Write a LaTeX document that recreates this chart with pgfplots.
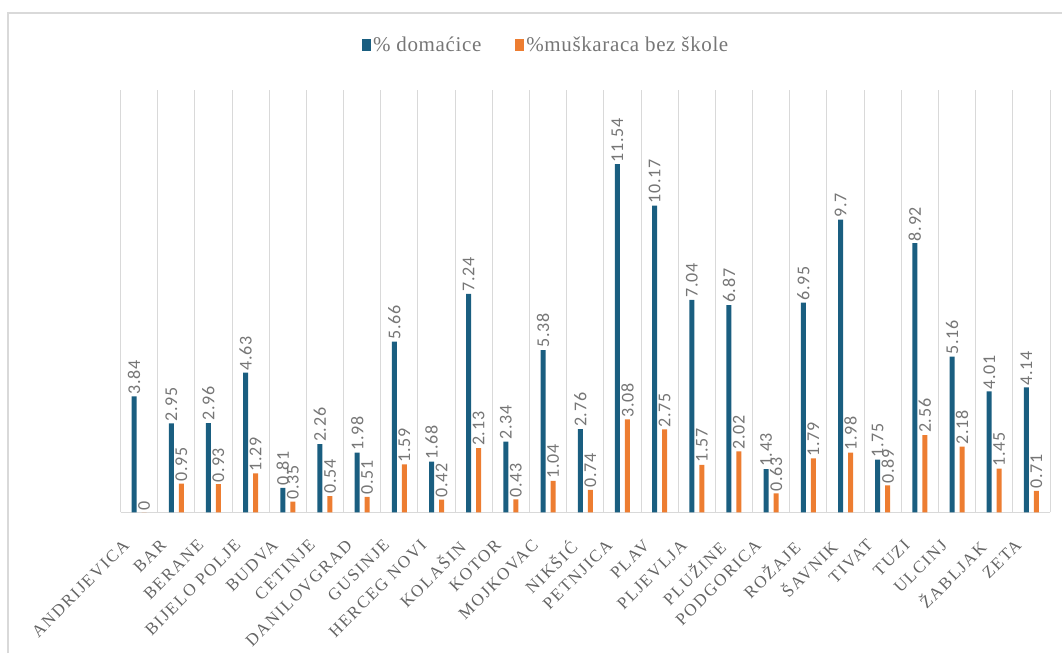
\documentclass[border=0pt]{standalone}
\usepackage{fontspec}
\setmainfont{Liberation Serif}
\newfontfamily\tickfont[LetterSpace=10]{Liberation Serif}
\newfontfamily\legfont[LetterSpace=3]{Liberation Serif}
\newfontfamily\valfont[LetterSpace=4]{Carlito}
\usepackage{pgfplots}
\pgfplotsset{compat=1.18}
\definecolor{cblue}{RGB}{26,94,128}
\definecolor{corange}{RGB}{237,125,49}
\definecolor{txt}{RGB}{118,118,118}
\definecolor{ticktxt}{RGB}{100,100,100}
\definecolor{gridc}{RGB}{217,217,217}

\pgfplotstableread{
x dom musk
0 3.84 0
1 2.95 0.95
2 2.96 0.93
3 4.63 1.29
4 0.81 0.35
5 2.26 0.54
6 1.98 0.51
7 5.66 1.59
8 1.68 0.42
9 7.24 2.13
10 2.34 0.43
11 5.38 1.04
12 2.76 0.74
13 11.54 3.08
14 10.17 2.75
15 7.04 1.57
16 6.87 2.02
17 1.43 0.63
18 6.95 1.79
19 9.7 1.98
20 1.75 0.89
21 8.92 2.56
22 5.16 2.18
23 4.01 1.45
24 4.14 0.71
}\datatable

\begin{document}
\begin{tikzpicture}[x=1pt,y=1pt]
\useasboundingbox (0,0) rectangle (1062,653);
\draw[gridc, line width=1.2pt] (8,0) -- (8,640) -- (1062,640);
\begin{axis}[
  at={(120.5pt,140.7pt)}, anchor=south west,
  width=929.5pt, height=422.3pt, scale only axis,
  ybar=5pt, bar width=5pt,
  xmin=-0.5, xmax=24.5, ymin=0, ymax=14,
  xtick={0,...,24},
  xticklabels={ANDRIJEVICA,BAR,BERANE,BIJELO POLJE,BUDVA,CETINJE,DANILOVGRAD,GUSINJE,HERCEG NOVI,KOLAŠIN,KOTOR,MOJKOVAC,NIKŠIĆ,PETNJICA,PLAV,PLJEVLJA,PLUŽINE,PODGORICA,ROŽAJE,ŠAVNIK,TIVAT,TUZI,ULCINJ,ŽABLJAK,ZETA},
  minor xtick={-0.5,0.5,...,24.5},
  xminorgrids, minor grid style={gridc, line width=0.9pt},
  ytick=\empty,
  axis y line=none, axis x line*=bottom,
  x axis line style={gridc, line width=1.2pt, -},
  major tick length=0pt, minor tick length=0pt,
  xticklabel style={xshift=-17pt, yshift=-26pt, rotate=45, anchor=north east, font=\tickfont\fontsize{17}{17}\selectfont, text=ticktxt, inner sep=0pt},
  nodes near coords,
  /pgf/number format/assume math mode=true,
  every node near coord/.append style={rotate=90, anchor=west, font=\valfont\fontsize{18}{18}\selectfont, text=txt, inner sep=2pt},
  legend style={at={(0.458,1.107)}, anchor=center, draw=none, fill=none, legend columns=2,
    font=\legfont\fontsize{21}{21}\selectfont, text=txt,
    /tikz/every even column/.append style={column sep=32pt}},
  legend image code/.code={\fill[#1] (0pt,-6pt) rectangle (9pt,6pt);},
]
\addplot[fill=cblue, draw=none] table[x=x, y=dom] {\datatable};
\addlegendentry{\% domaćice}
\addplot[fill=corange, draw=none] table[x=x, y=musk] {\datatable};
\addlegendentry{\%muškaraca bez škole}
\end{axis}
\end{tikzpicture}
\end{document}
